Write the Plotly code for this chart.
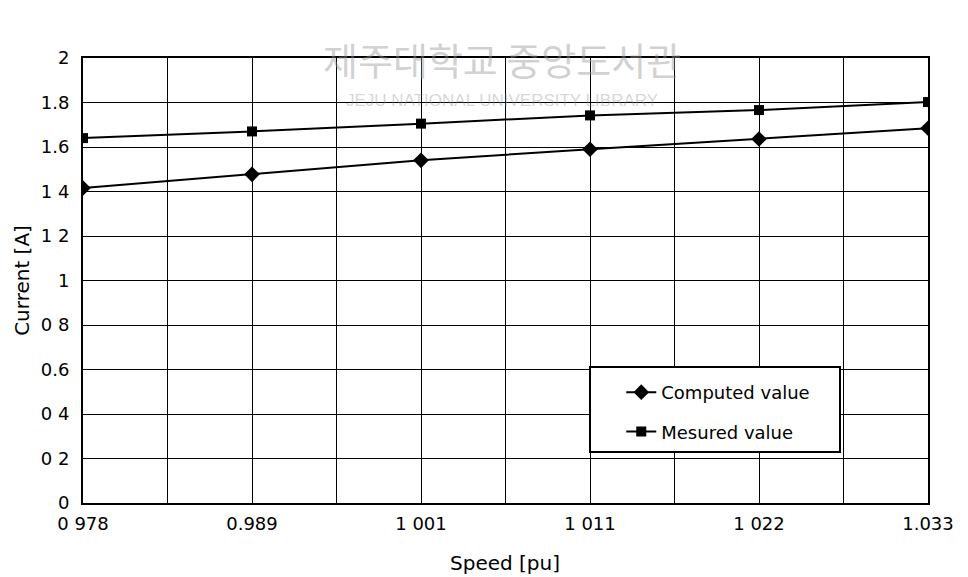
import plotly.graph_objects as go

speed_labels = ["0 978", "0.989", "1 001", "1 011", "1 022", "1.033"]
computed = [1.416, 1.477, 1.540, 1.590, 1.636, 1.684]
measured = [1.640, 1.670, 1.705, 1.742, 1.766, 1.802]
y_tick_vals = [0, 0.2, 0.4, 0.6, 0.8, 1.0, 1.2, 1.4, 1.6, 1.8, 2.0]
y_tick_text = ["0", "0 2", "0 4", "0.6", "0 8", "1", "1 2", "1 4", "1.6", "1.8", "2"]

xpos = list(range(len(speed_labels)))
x_tick_vals = []
x_tick_text = []
for i, lab in enumerate(speed_labels):
    x_tick_vals.append(i)
    x_tick_text.append(lab)
    if i < len(speed_labels) - 1:
        x_tick_vals.append(i + 0.5)
        x_tick_text.append("")

FONT = "DejaVu Sans, Verdana, sans-serif"

fig = go.Figure()
fig.add_trace(go.Scatter(
    x=xpos, y=computed, name="Computed value", mode="lines+markers",
    line=dict(color="black", width=2),
    marker=dict(symbol="diamond", size=12, color="black"),
    legendgroup="a",
))
fig.add_trace(go.Scatter(
    x=xpos, y=measured, name="Mesured value", mode="lines+markers",
    line=dict(color="black", width=2),
    marker=dict(symbol="square", size=10, color="black"),
    legendgroup="b",
))

fig.update_layout(
    width=968, height=577,
    margin=dict(l=83, r=40, t=58, b=74),
    paper_bgcolor="white", plot_bgcolor="white",
    font=dict(family=FONT, size=18, color="black"),
    showlegend=True,
    legend=dict(
        x=0.637, y=0.29, xanchor="left", yanchor="top",
        bgcolor="rgba(0,0,0,0)", borderwidth=0,
        font=dict(size=18, family=FONT),
        tracegroupgap=13,
    ),
    xaxis=dict(
        range=[0, 5], tickvals=x_tick_vals, ticktext=x_tick_text,
        showgrid=True, gridcolor="black", gridwidth=1,
        zeroline=False, showline=True, linecolor="black", linewidth=2, mirror=True,
        ticks="", ticklen=0, ticklabelstandoff=3, automargin=False,
        title=dict(text="", font=dict(size=20)),
        tickfont=dict(size=18),
    ),
    yaxis=dict(
        range=[0, 2], tickvals=y_tick_vals, ticktext=y_tick_text,
        showgrid=True, gridcolor="black", gridwidth=1,
        zeroline=False, showline=True, linecolor="black", linewidth=2, mirror=True,
        ticks="", ticklen=0, ticklabelstandoff=8,
        title=dict(text="Current [A]", font=dict(size=20), standoff=6),
        tickfont=dict(size=18),
    ),
)

# x axis title placed under the tick labels
fig.add_annotation(text="Speed [pu]", xref="paper", yref="paper",
                   x=(505 - 83) / 845, y=-(563 - 503) / 445, showarrow=False,
                   xanchor="center", yanchor="middle", font=dict(size=20, family=FONT))

# legend border box
fig.add_shape(type="rect", xref="paper", yref="paper",
              x0=(590 - 83) / 845, x1=(840 - 83) / 845,
              y0=(503 - 452) / 445, y1=(503 - 367) / 445,
              line=dict(color="black", width=2), fillcolor="white", layer="above")

# faint library watermark
fig.add_annotation(text="제주대학교 중앙도서관", xref="paper", yref="paper",
                   x=(502 - 83) / 845, y=(503 - 59) / 445, showarrow=False,
                   xanchor="center", yanchor="middle",
                   font=dict(family="Noto Sans CJK KR", size=38, color="rgba(150,150,150,0.45)"))
fig.add_annotation(text="JEJU NATIONAL UNIVERSITY LIBRARY", xref="paper", yref="paper",
                   x=(502 - 83) / 845, y=(503 - 101) / 445, showarrow=False,
                   xanchor="center", yanchor="middle",
                   font=dict(family="Liberation Sans", size=17, color="rgba(150,150,150,0.40)"))

fig.write_html("out.html")
